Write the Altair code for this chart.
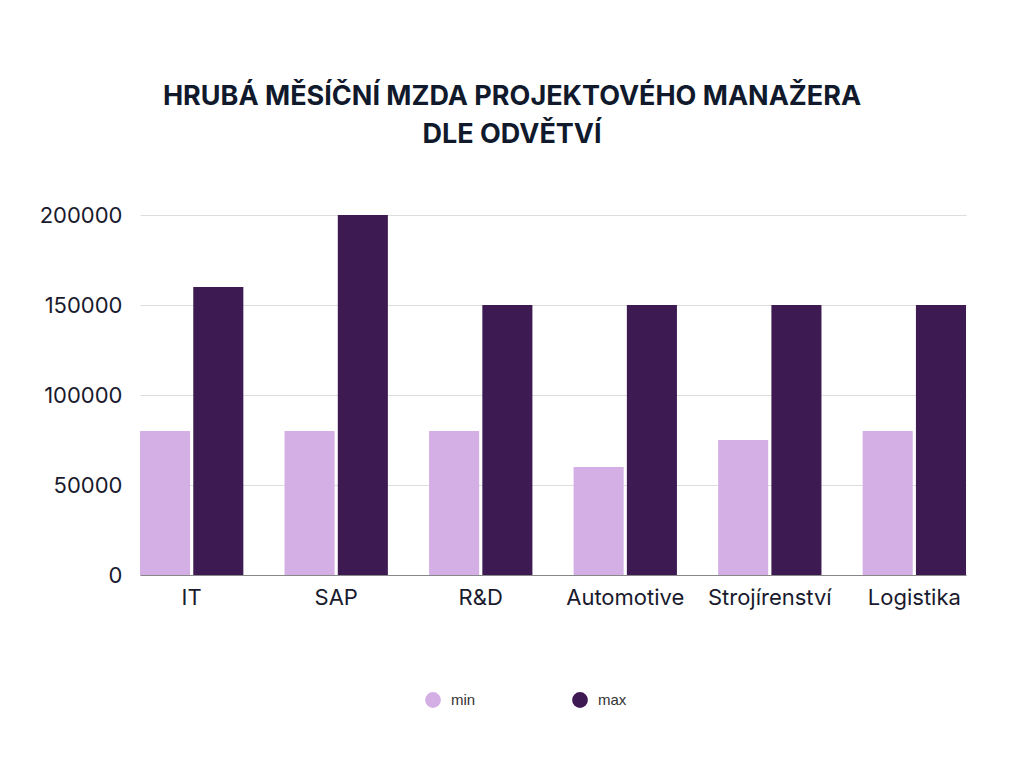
import altair as alt
import pandas as pd

categories = ["IT", "SAP", "R&D", "Automotive", "Strojírenství", "Logistika"]
min_values = [80000, 80000, 80000, 60000, 75000, 80000]
max_values = [160000, 200000, 150000, 150000, 150000, 150000]
series = ["min", "max"]
colors = ["#d4afe6", "#3d1a52"]

rows = []
for c, mn, mx in zip(categories, min_values, max_values):
    rows.append({"odvetvi": c, "serie": "min", "mzda": mn})
    rows.append({"odvetvi": c, "serie": "max", "mzda": mx})
df = pd.DataFrame(rows)

chart = alt.Chart(df).mark_bar().encode(
    x=alt.X("odvetvi:N", sort=categories, title=None,
            scale=alt.Scale(paddingInner=0.285, paddingOuter=0),
            axis=alt.Axis(labelAngle=0, labelFontSize=22, labelFont="Inter",
                          labelColor="#1a1a2e", labelPadding=12, ticks=False,
                          domainColor="#888888", domainWidth=1)),
    xOffset=alt.XOffset("serie:N", sort=series,
                        scale=alt.Scale(paddingInner=0.06, paddingOuter=0)),
    y=alt.Y("mzda:Q", title=None,
            scale=alt.Scale(domain=[0, 200000]),
            axis=alt.Axis(values=[0, 50000, 100000, 150000, 200000], format="d",
                          labelFontSize=22, labelFont="Inter", labelColor="#1a1a2e",
                          labelPadding=18, ticks=False, domain=False,
                          gridColor="#dddddd", gridWidth=1)),
    color=alt.Color("serie:N", sort=series,
                    scale=alt.Scale(domain=series, range=colors),
                    legend=alt.Legend(title=None, orient="none", direction="horizontal",
                                      legendX=285, legendY=477,
                                      symbolType="circle", symbolSize=250,
                                      labelFont="Liberation Sans", labelFontSize=15,
                                      labelColor="#333333", labelOffset=10,
                                      columnPadding=96,
                                      symbolStrokeWidth=0)),
).properties(
    width=826,
    height=360,
    title=alt.TitleParams(
        text=["HRUBÁ MĚSÍČNÍ MZDA PROJEKTOVÉHO MANAŽERA", "DLE ODVĚTVÍ"],
        font="Inter", fontSize=27, fontWeight="bold", color="#111a2c",
        anchor="middle", lineHeight=38, offset=55, dx=-41,
    ),
    autosize=alt.AutoSizeParams(type="none"),
    padding={"left": 132, "top": 207, "right": 40, "bottom": 170},
).configure_view(stroke=None)

chart.save("out.html", embed_options={"renderer": "svg", "actions": False})
